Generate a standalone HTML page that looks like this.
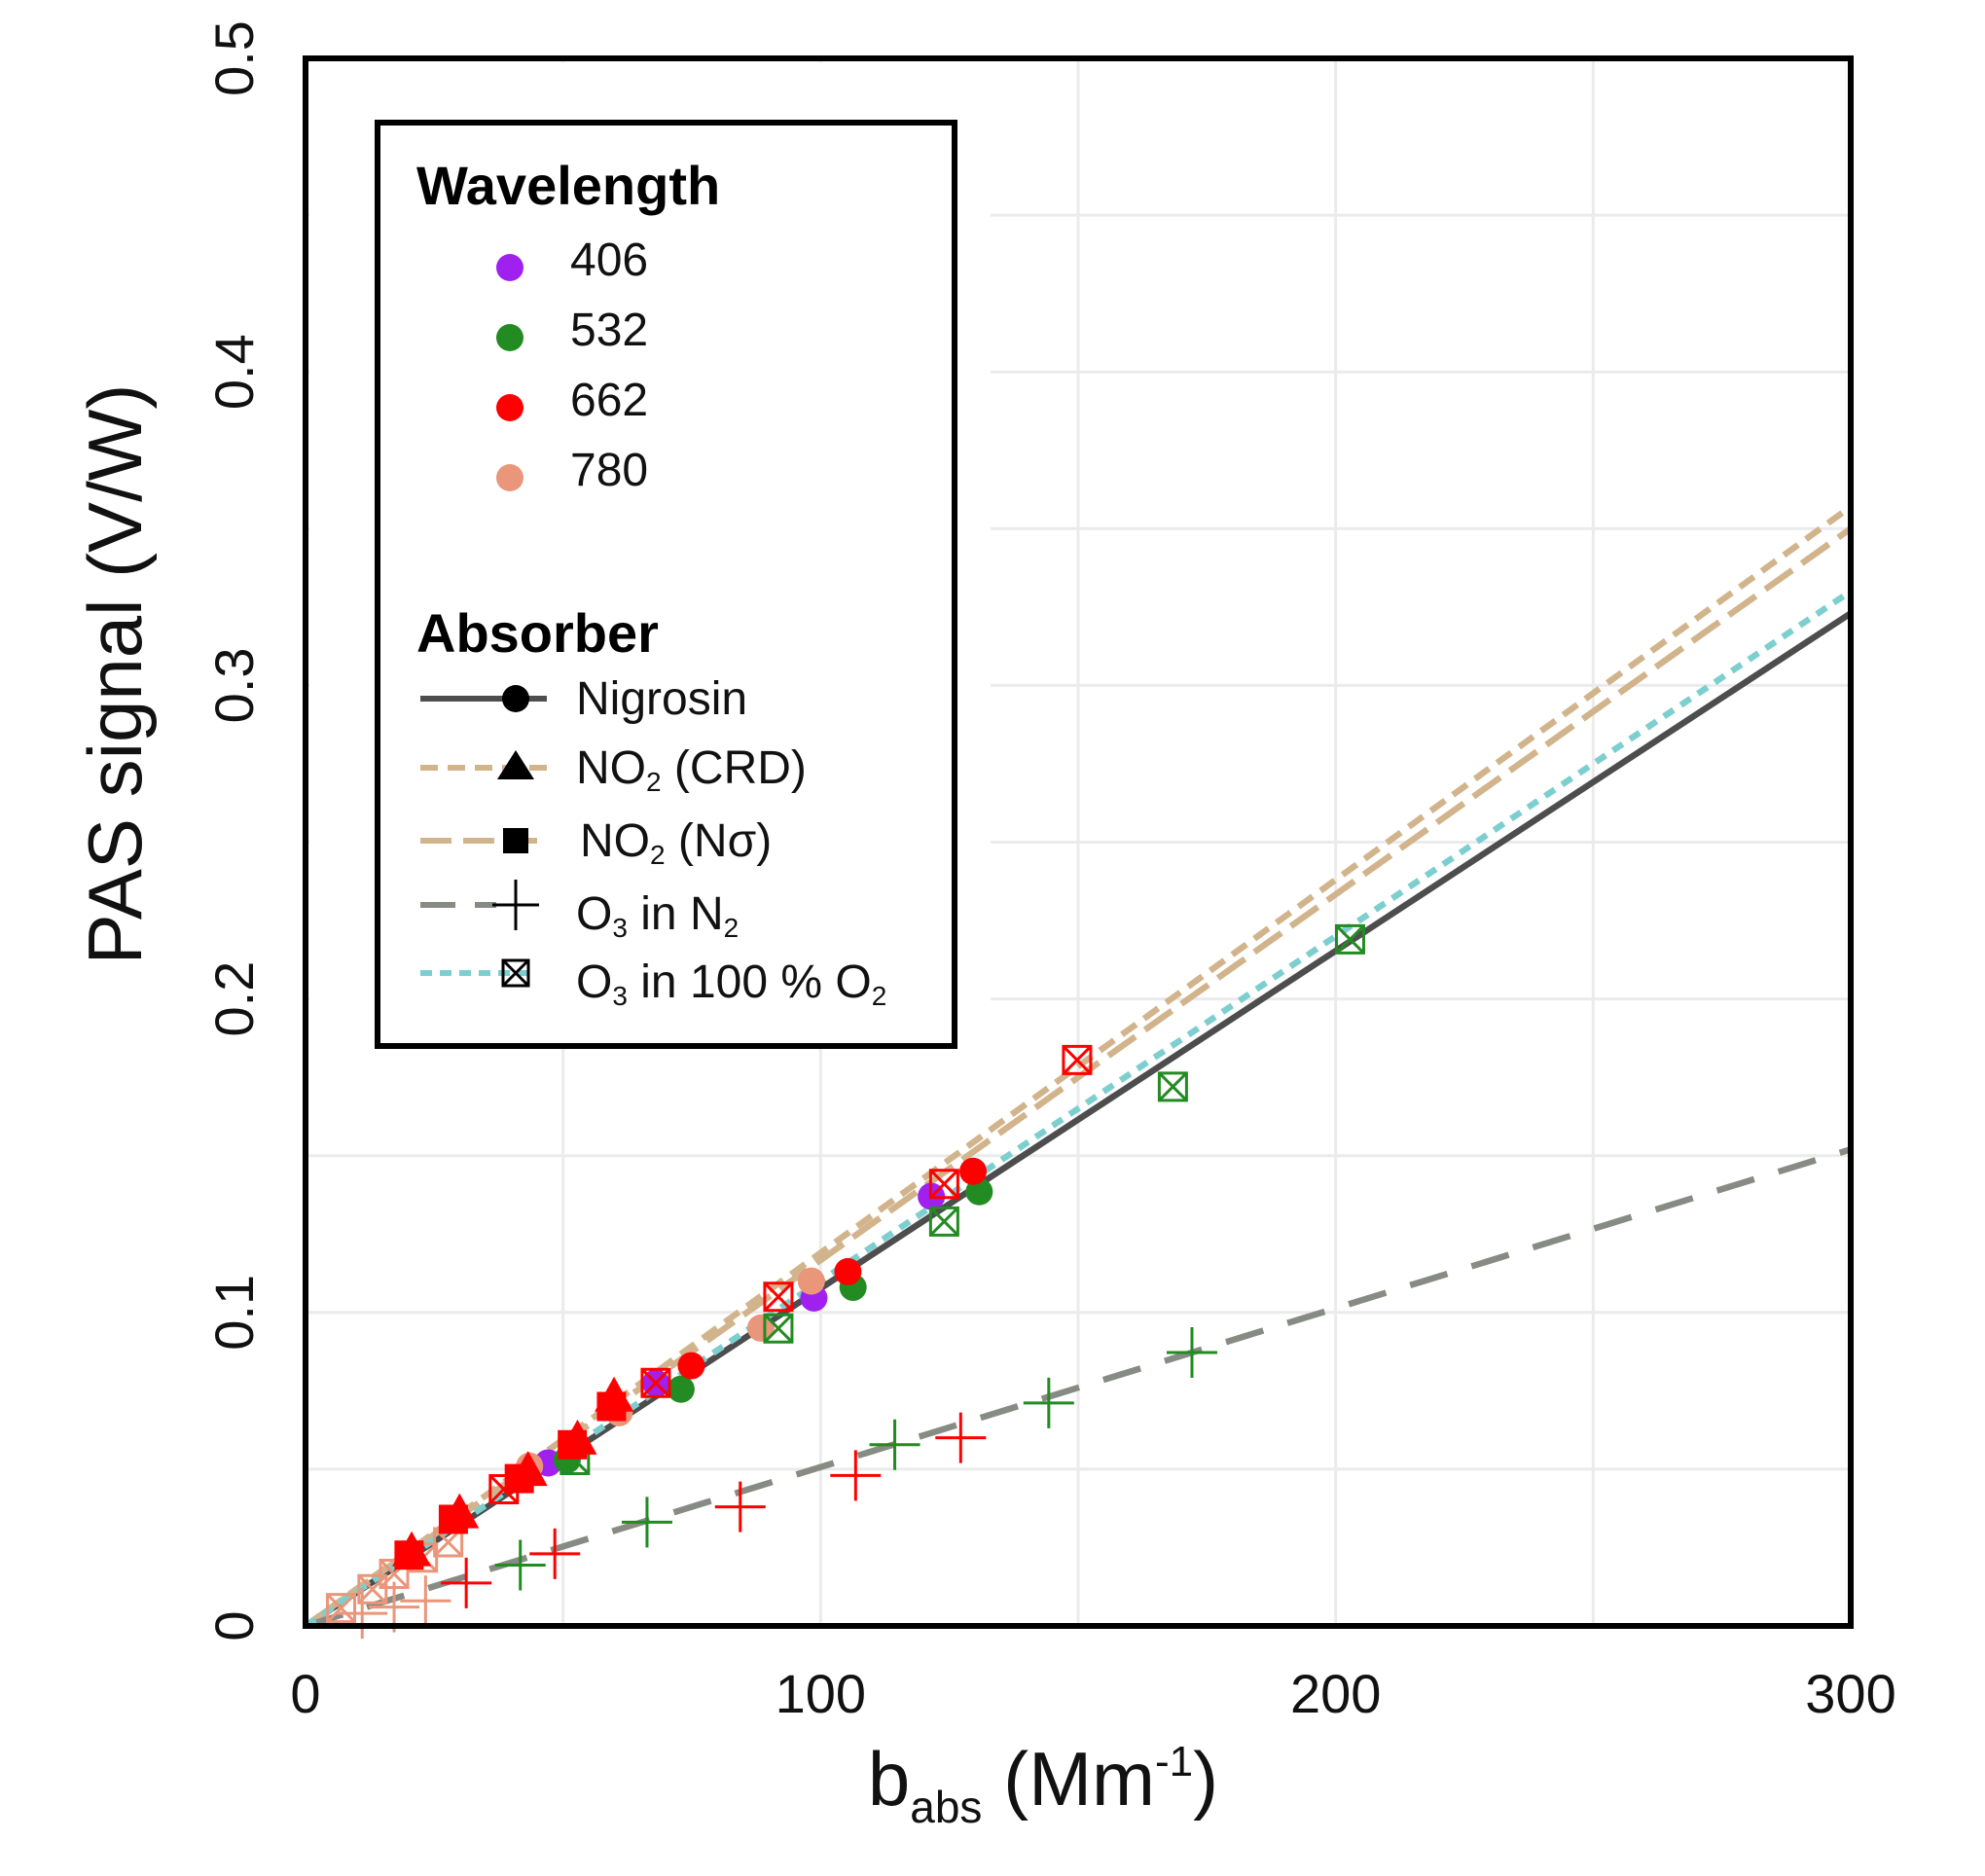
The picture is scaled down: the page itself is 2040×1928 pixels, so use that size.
<!DOCTYPE html>
<html><head><meta charset="utf-8"><style>
html,body{margin:0;padding:0;background:#fff}
svg{display:block;font-family:"Liberation Sans",sans-serif}
</style></head><body>
<svg id="chart" width="2040" height="1928" viewBox="0 0 2040 1928" xmlns="http://www.w3.org/2000/svg">
<g id="grid"></g>
<rect x="318" y="64" width="700" height="1008" fill="#fff"/>
<g id="lines"></g>
<g id="points"></g>
<rect x="314" y="60" width="1588" height="1611" fill="none" stroke="#000" stroke-width="6"/>
<g id="ticks" font-size="56" fill="#111"></g>
<text transform="translate(145,693) rotate(-90)" text-anchor="middle" font-size="78" fill="#111">PAS signal (V/W)</text>
<text x="1072" y="1855" text-anchor="middle" font-size="78" fill="#111">b<tspan font-size="46" dy="18">abs</tspan><tspan dy="-18"> (Mm</tspan><tspan font-size="44" dy="-30">-1</tspan><tspan dy="30">)</tspan></text>
<g>
<rect x="388" y="126" width="593" height="949" fill="#fff" stroke="#000" stroke-width="6"/>
<text x="428" y="210" font-size="56" font-weight="bold">Wavelength</text>
<g font-size="48" fill="#111">
<circle cx="524" cy="275" r="14" fill="#a020f0"/><text x="586" y="283">406</text>
<circle cx="524" cy="347" r="14" fill="#228b22"/><text x="586" y="355">532</text>
<circle cx="524" cy="419" r="14" fill="#ff0000"/><text x="586" y="427">662</text>
<circle cx="524" cy="491" r="14" fill="#e9967a"/><text x="586" y="499">780</text>
</g>
<text x="428" y="670" font-size="56" font-weight="bold">Absorber</text>
<g font-size="48" fill="#111">
<line x1="432" y1="718" x2="562" y2="718" stroke="#4d4d4d" stroke-width="6"/><circle cx="530" cy="718" r="14" fill="#000"/>
<text x="592" y="734">Nigrosin</text>
<line x1="432" y1="789" x2="562" y2="789" stroke="#d2b48c" stroke-width="6" stroke-dasharray="18,10"/><path d="M530,771 L549,801 L511,801 Z" fill="#000"/>
<text x="592" y="805">NO<tspan font-size="28" dy="8">2</tspan><tspan dy="-8">  (CRD)</tspan></text>
<line x1="432" y1="864" x2="562" y2="864" stroke="#d2b48c" stroke-width="6" stroke-dasharray="32,12"/><rect x="517" y="851" width="26" height="26" fill="#000"/>
<text x="596" y="880">NO<tspan font-size="28" dy="8">2</tspan><tspan dy="-8">  (Nσ)</tspan></text>
<line x1="432" y1="930" x2="510" y2="930" stroke="#868b83" stroke-width="6" stroke-dasharray="36,20"/><line x1="530" y1="904" x2="530" y2="956" stroke="#000" stroke-width="3"/><line x1="506" y1="930" x2="554" y2="930" stroke="#000" stroke-width="3"/>
<text x="592" y="955">O<tspan font-size="28" dy="8">3</tspan><tspan dy="-8">  in N</tspan><tspan font-size="28" dy="8">2</tspan></text>
<line x1="432" y1="1000" x2="552" y2="1000" stroke="#7dcfcf" stroke-width="6" stroke-dasharray="12,8"/><g stroke="#000" stroke-width="3" fill="none"><rect x="517" y="987" width="26" height="26"/><path d="M517,987 L543,1013 M543,987 L517,1013"/></g>
<text x="592" y="1025">O<tspan font-size="28" dy="8">3</tspan><tspan dy="-8">  in 100  % O</tspan><tspan font-size="28" dy="8">2</tspan></text>
</g>
</g>
</svg>
<script>
// ---- data ----
const xTicks = [0, 100, 200, 300];
const yTicks = [0, 0.1, 0.2, 0.3, 0.4, 0.5];
const fitNames = ['nigrosin','no2-crd','no2-nsigma','o3-n2','o3-o2'];
const fitEndX = [300, 300, 300, 300, 300];
const fitEndY = [0.323, 0.357, 0.350, 0.152, 0.330];
const nigX = [47.1, 68, 98.7, 121.5, 50.8, 72.9, 106.3, 130.8, 74.9, 105.3, 129.6, 43.5, 60.9, 88.4, 98.2];
const nigY = [0.052, 0.0775, 0.1046, 0.137, 0.053, 0.0755, 0.108, 0.1385, 0.083, 0.113, 0.145, 0.051, 0.068, 0.095, 0.110];
const nigW = [406,406,406,406,532,532,532,532,662,662,662,780,780,780,780];
const triX = [20.6, 29.9, 43.2, 52.8, 59.9];
const triY = [0.0234, 0.0355, 0.049, 0.059, 0.0727];
const sqX = [20.1, 28.7, 41.5, 51.8, 59.4];
const sqY = [0.0226, 0.034, 0.047, 0.0578, 0.070];
const o2X = [38.5, 68, 91.8, 124, 149.8, 52.3, 91.8, 124, 168.4, 202.8, 6.9, 13, 17.2, 22.8, 27.7];
const o2Y = [0.0436, 0.0775, 0.105, 0.141, 0.1805, 0.0529, 0.0949, 0.129, 0.172, 0.219, 0.0057, 0.0117, 0.0166, 0.0218, 0.0267];
const o2W = [662,662,662,662,662,532,532,532,532,532,780,780,780,780,780];
const n2X = [31.2, 48.4, 84.4, 106.8, 127.2, 41.7, 66.3, 114.4, 144.3, 172.1, 11, 17.2, 23.3];
const n2Y = [0.0137, 0.023, 0.038, 0.048, 0.060, 0.0194, 0.0331, 0.0578, 0.0711, 0.0872, 0.004, 0.006, 0.008];
const n2W = [662,662,662,662,662,532,532,532,532,532,780,780,780];

const colors = {406:'#a020f0',532:'#228b22',662:'#ff0000',780:'#e9967a'};
const X0=314, X1=1902, Y0=1671, Y1=60;
const sx = v => X0 + v/300*(X1-X0);
const sy = v => Y0 - v/0.5*(Y0-Y1);
const NS='http://www.w3.org/2000/svg';
function mk(tag, attrs, parent){const e=document.createElementNS(NS,tag);for(const k in attrs)e.setAttribute(k,attrs[k]);parent.appendChild(e);return e;}
const grid=document.getElementById('grid'), lines=document.getElementById('lines'), pts=document.getElementById('points'), ticks=document.getElementById('ticks');
for(let v=0; v<=300; v+=50){
  const l=mk('line',{x1:sx(v),x2:sx(v),y1:Y1,y2:Y0,stroke:'#ebebeb','stroke-width':3},grid);
  
  
}
for(let i=0;i<=10;i++){
  const v=i*0.05;
  const l=mk('line',{x1:X0,x2:X1,y1:sy(v),y2:sy(v),stroke:'#ebebeb','stroke-width':3},grid);
  
  
}
xTicks.forEach(v=>{
  const t=mk('text',{x:sx(v),y:1760,'text-anchor':'middle'},ticks);t.textContent=String(v);
  
  
});
yTicks.forEach(v=>{
  const t=mk('text',{transform:`translate(260,${sy(v)}) rotate(-90)`,'text-anchor':'middle'},ticks);t.textContent=String(v);
  
  
});
const styles=[{s:'#4d4d4d',d:''},{s:'#d2b48c',d:'18,10'},{s:'#d2b48c',d:'34,12'},{s:'#868b83',d:'40,26'},{s:'#7dcfcf',d:'12,9'}];
fitNames.forEach((n,i)=>{
  const a={x1:sx(0),y1:sy(0),x2:sx(fitEndX[i]),y2:sy(fitEndY[i]),stroke:styles[i].s,'stroke-width':6.5,fill:'none'};
  if(styles[i].d)a['stroke-dasharray']=styles[i].d;
  const l=mk('line',a,lines);
  
  
});
n2X.forEach((x,i)=>{
  const cx=sx(x),cy=sy(n2Y[i]),c=colors[n2W[i]];
  const g=mk('path',{d:`M${cx-26},${cy} L${cx+26},${cy} M${cx},${cy-26} L${cx},${cy+26}`,stroke:c,'stroke-width':3,fill:'none'},pts);
  
  
});
nigX.forEach((x,i)=>{
  const c=mk('circle',{cx:sx(x),cy:sy(nigY[i]),r:14,fill:colors[nigW[i]]},pts);
  
  
});
o2X.forEach((x,i)=>{
  const cx=sx(x),cy=sy(o2Y[i]),c=colors[o2W[i]],h=14;
  const g=mk('path',{d:`M${cx-h},${cy-h} h${2*h} v${2*h} h${-2*h} Z M${cx-h},${cy-h} L${cx+h},${cy+h} M${cx+h},${cy-h} L${cx-h},${cy+h}`,stroke:c,'stroke-width':3,fill:'none'},pts);
  
  
});
sqX.forEach((x,i)=>{
  const cx=sx(x),cy=sy(sqY[i]);
  const r=mk('rect',{x:cx-15,y:cy-15,width:30,height:30,fill:'#ff0000'},pts);
  
  
});
triX.forEach((x,i)=>{
  const cx=sx(x),cy=sy(triY[i]);
  const p=mk('path',{d:`M${cx},${cy-22} L${cx+20},${cy+14} L${cx-20},${cy+14} Z`,fill:'#ff0000'},pts);
  
  
});
</script>
</body></html>
